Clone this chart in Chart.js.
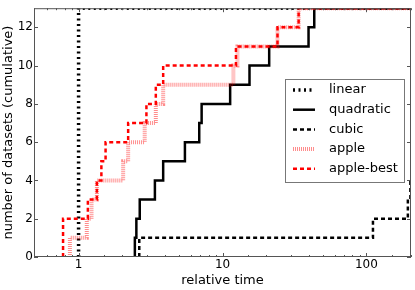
<!DOCTYPE html>
<html>
<head>
<meta charset="utf-8">
<script src="https://cdn.jsdelivr.net/npm/chart.js@4"></script>
<style>
  html, body { margin: 0; padding: 0; background: #fff; }
  #wrap { width: 415px; height: 290px; }
</style>
</head>
<body>
<div id="wrap"><canvas id="chart" width="415" height="290"></canvas></div>
<script>
// relative time at which each dataset is solved (sorted)
const seriesNames = ["linear", "quadratic", "cubic", "apple", "apple-best"];
const linearTimes = [1, 1, 1, 1, 1, 1, 1, 1, 1, 1, 1, 1, 1];
const quadraticTimes = [2.46, 2.52, 2.66, 3.39, 3.87, 5.48, 6.89, 7.16, 11.3, 15.4, 21.1, 39.6, 43.4];
const cubicTimes = [2.64, 111, 194, 202];
const appleTimes = [0.87, 1.14, 1.23, 1.34, 2.04, 2.21, 2.88, 3.44, 3.87, 11.9, 12.7, 24.1, 33.8];
const appleBestTimes = [0.78, 0.78, 1.16, 1.34, 1.44, 1.54, 2.21, 2.96, 3.44, 3.87, 12.4, 24.1, 33.8];
const yTicks = [0, 2, 4, 6, 8, 10, 12];
const xMin = 0.49, xMax = 204, yMax = 13;

// cumulative step points: start at 0, one step per dataset, carry to the right edge
function cumulative(times) {
    let pts = [{ x: times[0], y: 0 }];
    times.forEach((t, i) => pts.push({ x: t, y: i + 1 }));
    pts.push({ x: xMax * 1.5, y: times.length });
    return pts;
}

const styles = [
    { color: "#000", width: 3.5, dash: [2, 3.5] },
    { color: "#000", width: 2.5, dash: [] },
    { color: "#000", width: 2.5, dash: [4, 3] },
    { color: "rgba(255,0,0,0.45)", width: 4, dash: [1, 1] },
    { color: "#f00", width: 2.5, dash: [4, 3] }
];
const allTimes = [linearTimes, quadraticTimes, cubicTimes, appleTimes, appleBestTimes];

const FONT = "'DejaVu Sans', sans-serif";

// frame, inward ticks and the legend box
const framePlugin = {
    id: "frame",
    afterDatasetsDraw(chart) {
        const ctx = chart.ctx, a = chart.chartArea;
        const xs = chart.scales.x, ys = chart.scales.y;
        ctx.save();
        ctx.strokeStyle = "#555";
        ctx.lineWidth = 1;
        ctx.strokeRect(a.left + 0.5, a.top + 0.5, a.right - a.left - 1, a.bottom - a.top - 1);
        ctx.beginPath();
        yTicks.forEach(v => {
            const y = Math.round(ys.getPixelForValue(v)) + 0.5;
            ctx.moveTo(a.left, y); ctx.lineTo(a.left + 4, y);
            ctx.moveTo(a.right, y); ctx.lineTo(a.right - 4, y);
        });
        xs.ticks.forEach(t => {
            const v = t.value;
            if (v < xMin || v > xMax) return;
            const major = Math.abs(Math.log10(v) - Math.round(Math.log10(v))) < 1e-6;
            const len = major ? 4 : 2;
            const x = Math.round(xs.getPixelForValue(v)) + 0.5;
            ctx.moveTo(x, a.bottom); ctx.lineTo(x, a.bottom - len);
            ctx.moveTo(x, a.top); ctx.lineTo(x, a.top + len);
        });
        ctx.stroke();

        // legend
        const lx = 285, ly = 79, lw = 119, lh = 103;
        ctx.fillStyle = "#fff";
        ctx.fillRect(lx, ly, lw, lh);
        ctx.strokeStyle = "#777";
        ctx.strokeRect(lx + 0.5, ly + 0.5, lw, lh);
        ctx.font = "13px " + FONT;
        ctx.textBaseline = "middle";
        seriesNames.forEach((name, i) => {
            const y = ly + 11 + i * 19.7;
            const s = styles[i];
            ctx.beginPath();
            ctx.strokeStyle = s.color;
            ctx.lineWidth = s.width;
            ctx.setLineDash(s.dash);
            ctx.moveTo(293, y); ctx.lineTo(315, y);
            ctx.stroke();
            ctx.setLineDash([]);
            ctx.fillStyle = "#000";
            ctx.fillText(name, 329, y);
        });
        ctx.restore();
    }
};

new Chart(document.getElementById("chart"), {
    type: "line",
    data: {
        datasets: allTimes.map((times, i) => ({
            label: seriesNames[i],
            data: cumulative(times),
            borderColor: styles[i].color,
            borderWidth: styles[i].width,
            borderDash: styles[i].dash,
            stepped: "before",
            pointRadius: 0,
            fill: false,
            order: 5 - i
        }))
    },
    options: {
        responsive: false,
        animation: false,
        devicePixelRatio: 1,
        layout: { padding: { top: 4, right: 4, left: 0, bottom: 0 } },
        plugins: { legend: { display: false }, tooltip: { enabled: false } },
        scales: {
            x: {
                type: "logarithmic",
                min: xMin,
                max: xMax,
                grid: { display: false, drawTicks: false },
                border: { display: false },
                ticks: {
                    color: "#000",
                    font: { family: FONT, size: 12 },
                    maxRotation: 0,
                    autoSkip: false,
                    padding: 1,
                    callback: v => {
                        const l = Math.log10(v);
                        return Math.abs(l - Math.round(l)) < 1e-6 ? String(v) : "";
                    }
                },
                title: {
                    display: true,
                    text: "relative time",
                    color: "#000",
                    font: { family: FONT, size: 13 },
                    padding: { top: 0, bottom: 2 }
                },
                afterFit: s => { s.height = 33; }
            },
            y: {
                min: 0,
                max: yMax,
                grid: { display: false, drawTicks: false },
                border: { display: false },
                afterBuildTicks: s => { s.ticks = yTicks.map(v => ({ value: v })); },
                ticks: {
                    color: "#000",
                    font: { family: FONT, size: 12 },
                    padding: 1
                },
                title: {
                    display: true,
                    text: "number of datasets (cumulative)",
                    color: "#000",
                    font: { family: FONT, size: 13 },
                    padding: { top: 1, bottom: 0 }
                },
                afterFit: s => { s.width = 34; }
            }
        }
    },
    plugins: [framePlugin]
});
</script>
</body>
</html>
